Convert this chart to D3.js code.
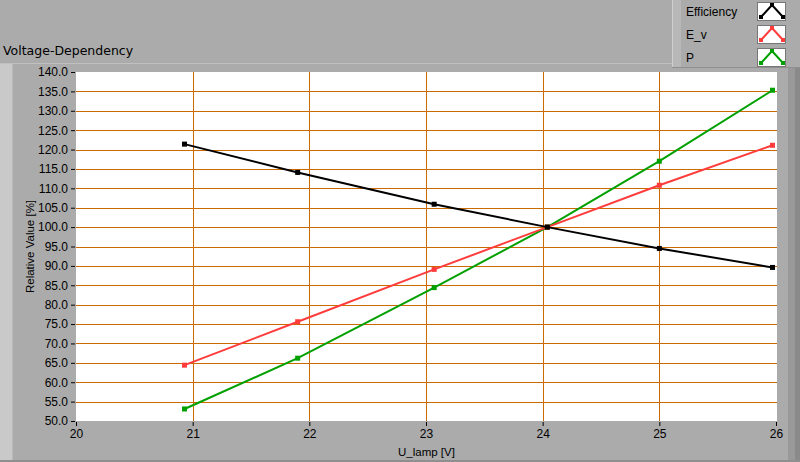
<!DOCTYPE html>
<html>
<head>
<meta charset="utf-8">
<script src="https://cdn.jsdelivr.net/npm/d3@7"></script>
<style>
body { margin: 0; background: #ababab; }
svg text { font-family: "DejaVu Sans", sans-serif; }
</style>
</head>
<body>
<div id="app"></div>
<script>
var voltage = [20.93, 21.9, 23.07, 24.04, 25.0, 25.97];
var efficiency = [121.4, 114.1, 105.9, 100.0, 94.5, 89.6];
var ev = [64.4, 75.6, 89.1, 100.0, 110.8, 121.1];
var power = [53.1, 66.2, 84.4, 100.0, 117.0, 135.3];
var xTicks = [20, 21, 22, 23, 24, 25, 26];
var yTicks = [50, 55, 60, 65, 70, 75, 80, 85, 90, 95, 100, 105, 110, 115, 120, 125, 130, 135, 140];
var seriesNames = ["Efficiency", "E_v", "P"];
var seriesColors = ["#000000", "#ff3c3c", "#00a000"];

var W = 800, H = 462;
var plotL = 76, plotR = 777, plotT = 72, plotB = 421;

var svg = d3.select("#app").append("svg")
    .attr("width", W)
    .attr("height", H);

// FRAME
svg.append("rect").attr("x", 0).attr("y", 0).attr("width", W).attr("height", H).style("fill", "#ababab");
svg.append("rect").attr("x", 0).attr("y", 64).attr("width", 12).attr("height", 396).style("fill", "#c9c9c9");
svg.append("rect").attr("x", 12).attr("y", 64).attr("width", 1).attr("height", 396).style("fill", "#b9b9b9");
svg.append("rect").attr("x", 0).attr("y", 63).attr("width", 672).attr("height", 1).style("fill", "#c0c0c0");
svg.append("rect").attr("x", 788).attr("y", 68).attr("width", 7).attr("height", 394).style("fill", "#999999");
svg.append("rect").attr("x", 795).attr("y", 68).attr("width", 5).attr("height", 394).style("fill", "#8a8a8a");
svg.append("rect").attr("x", 0).attr("y", 460).attr("width", W).attr("height", 2).style("fill", "#8f8f8f");

svg.append("text")
    .attr("x", 3).attr("y", 55)
    .style("font-size", "12.5px")
    .style("fill", "#000")
    .text("Voltage-Dependency");

// PLOT
var x = d3.scaleLinear().domain([20, 26]).range([plotL, plotR - 1]);
var y = d3.scaleLinear().domain([50, 140]).range([plotB, plotT]);

svg.append("rect")
    .attr("x", plotL).attr("y", plotT)
    .attr("width", plotR - plotL).attr("height", plotB - plotT)
    .style("fill", "#ffffff");

svg.append("g").selectAll("line")
    .data(yTicks.slice(1, -1))
    .enter().append("line")
    .attr("x1", plotL).attr("x2", plotR)
    .attr("y1", function (d) { return Math.round(y(d)) + 0.5; })
    .attr("y2", function (d) { return Math.round(y(d)) + 0.5; })
    .style("stroke", "#cc6a00").style("stroke-width", 1);

svg.append("g").selectAll("line")
    .data(xTicks.slice(1, -1))
    .enter().append("line")
    .attr("y1", plotT).attr("y2", plotB)
    .attr("x1", function (d) { return Math.round(x(d)) + 0.5; })
    .attr("x2", function (d) { return Math.round(x(d)) + 0.5; })
    .style("stroke", "#cc6a00").style("stroke-width", 1);

// AXES
var yAxis = svg.append("g")
    .attr("transform", "translate(" + (plotL - 1) + ",0)")
    .call(d3.axisLeft(y).tickValues(yTicks).tickSize(4).tickPadding(3)
        .tickFormat(function (d) { return d.toFixed(1); }));
var xAxis = svg.append("g")
    .attr("transform", "translate(0," + (plotB + 1) + ")")
    .call(d3.axisBottom(x).tickValues(xTicks).tickSize(4).tickPadding(3)
        .tickFormat(d3.format("d")));
[yAxis, xAxis].forEach(function (a) {
    a.select(".domain").remove();
    a.selectAll("line").style("stroke", "#000");
    a.selectAll("text").style("font-size", "12px").style("fill", "#000")
        .style("font-family", "'Liberation Sans', sans-serif");
});

svg.append("text")
    .attr("transform", "translate(34," + ((plotT + plotB) / 2) + ") rotate(-90)")
    .attr("text-anchor", "middle")
    .style("font-size", "11.5px")
    .style("font-family", "'Liberation Sans', sans-serif")
    .text("Relative Value [%]");
svg.append("text")
    .attr("x", (plotL + plotR) / 2).attr("y", 456)
    .attr("text-anchor", "middle")
    .style("font-size", "11.5px")
    .style("font-family", "'Liberation Sans', sans-serif")
    .text("U_lamp [V]");

// SERIES
var series = [power, ev, efficiency];
var colors = [seriesColors[2], seriesColors[1], seriesColors[0]];
var line = d3.line()
    .x(function (d) { return x(d[0]); })
    .y(function (d) { return y(d[1]); });

series.forEach(function (vals, i) {
    var pts = voltage.map(function (v, j) { return [v, vals[j]]; });
    svg.append("path")
        .datum(pts)
        .attr("d", line)
        .style("fill", "none")
        .style("stroke", colors[i])
        .style("stroke-width", 2);
    svg.append("g").selectAll("rect")
        .data(pts)
        .enter().append("rect")
        .attr("x", function (d) { return x(d[0]) - 2.5; })
        .attr("y", function (d) { return y(d[1]) - 2.5; })
        .attr("width", 5).attr("height", 5)
        .style("fill", colors[i]);
});

// LEGEND
var legend = svg.append("g");
legend.append("rect").attr("x", 672).attr("y", 0).attr("width", 128).attr("height", 68).style("fill", "#ababab");
legend.append("rect").attr("x", 672).attr("y", 0).attr("width", 1).attr("height", 68).style("fill", "#d0d0d0");
legend.append("rect").attr("x", 673).attr("y", 0).attr("width", 8).attr("height", 68).style("fill", "#b8b8b8");
legend.append("rect").attr("x", 672).attr("y", 67).attr("width", 128).attr("height", 1).style("fill", "#8f8f8f");

var iconY = [2, 25, 48];
var ex = d3.scaleLinear().domain([0, 1]).range([761, 783]);
var ey = d3.scaleLinear().domain([0, 1]).range([15, 3]);
var iconShape = [[0, 0], [0.5, 1], [1, 0]];
seriesNames.forEach(function (name, i) {
    legend.append("text")
        .attr("x", 686).attr("y", iconY[i] + 14)
        .style("font-size", "12px")
        .style("font-family", "'Liberation Sans', sans-serif")
        .text(name);
    var g = legend.append("g").attr("transform", "translate(0," + iconY[i] + ")");
    g.append("rect")
        .attr("x", 757.5).attr("y", 0.5).attr("width", 28).attr("height", 18)
        .style("fill", "#fff").style("stroke", "#777").style("stroke-width", 1);
    g.append("path")
        .datum(iconShape)
        .attr("d", d3.line().x(function (d) { return ex(d[0]); }).y(function (d) { return ey(d[1]); }))
        .style("fill", "none").style("stroke", seriesColors[i]).style("stroke-width", 2);
    g.selectAll("rect.m")
        .data(iconShape)
        .enter().append("rect")
        .attr("class", "m")
        .attr("x", function (d) { return ex(d[0]) - 2; })
        .attr("y", function (d) { return ey(d[1]) - 2; })
        .attr("width", 4).attr("height", 4)
        .style("fill", seriesColors[i]);
});
</script>
</body>
</html>
